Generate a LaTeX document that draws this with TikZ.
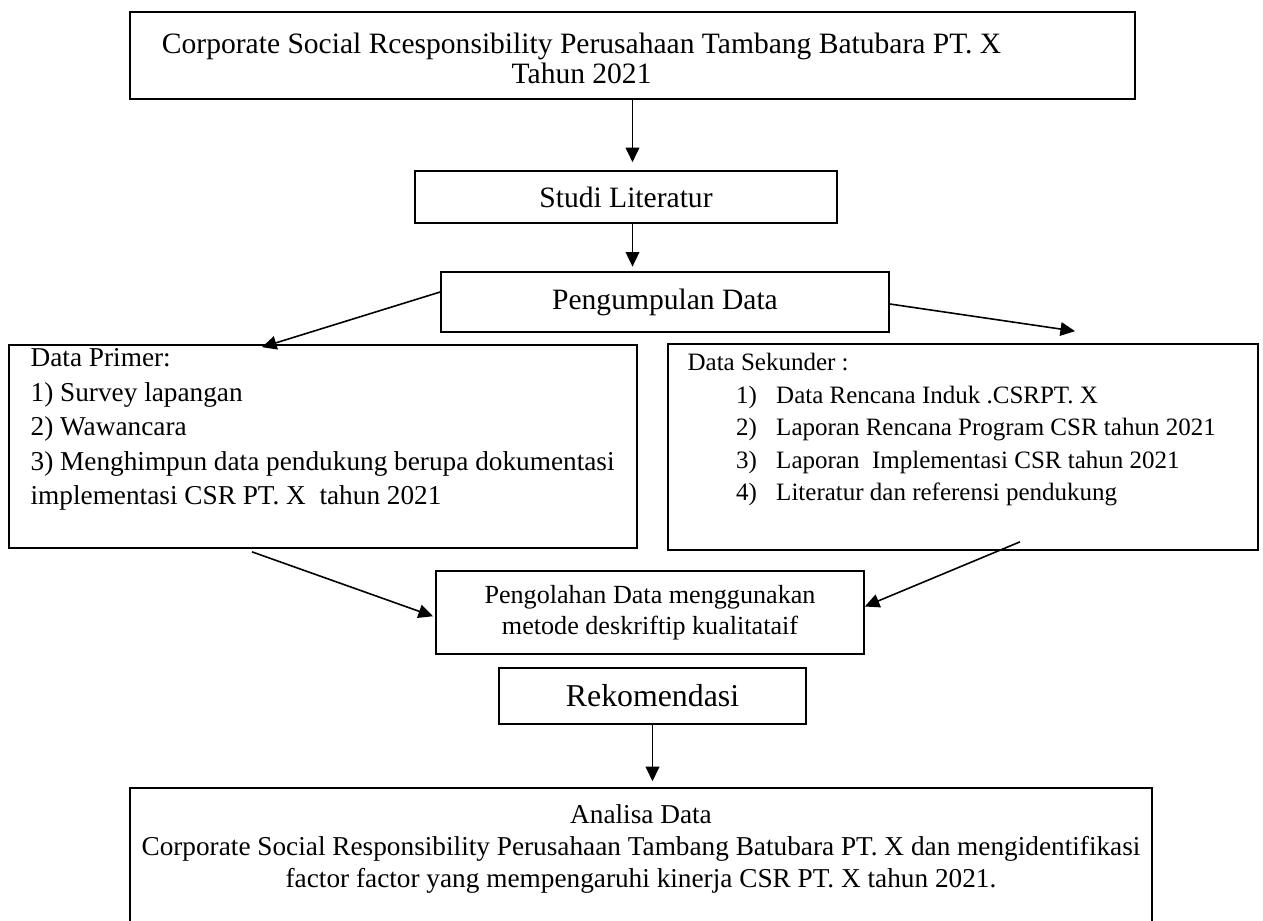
\documentclass[tikz,border=0pt]{standalone}
\usepackage{fontspec}
\setmainfont{Liberation Serif}
\usetikzlibrary{arrows.meta}
\frenchspacing

\begin{document}
\begin{tikzpicture}[x=0.44pt, y=-0.44pt,
    kotak/.style={draw, line width=0.75pt, inner sep=0pt},
    ukuran/.style 2 args={minimum width=#1*0.44pt, minimum height=#2*0.44pt},
    isi/.style={align=left, inner sep=0pt},
    panah/.style={-{Triangle[length=6.4pt, width=6pt]}, line width=0.7pt}]
  \useasboundingbox (0,0) rectangle (1263,921);
  % titik tengah tiap kotak
  \coordinate (jud) at (632.5,55.5);
  \coordinate (stu) at (626,197);
  \coordinate (kum) at (665,302);
  \coordinate (pri) at (323,446.5);
  \coordinate (sek) at (963,447);
  \coordinate (olh) at (650,612.5);
  \coordinate (rek) at (652.5,696);
  \coordinate (ana) at (641,861.5);

  \node[kotak, ukuran={1005}{87},
      label={[isi, align=center, name=judulisi, xshift=-22.4pt, yshift=-1.3pt,
        font=\fontsize{13}{13.2}\selectfont]center:{Corporate Social Rcesponsibility Perusahaan Tambang Batubara PT. X\\Tahun 2021}}
  ] (judul) at (jud) {};
  \node[kotak, ukuran={422}{52}, font=\fontsize{13}{15}\selectfont] (studi) at (stu) {Studi Literatur};
  \node[kotak, ukuran={448}{60}, font=\fontsize{13}{15}\selectfont] (kumpul) at (kum) {Pengumpulan Data};
  \node[kotak, ukuran={628}{203},
      label={[isi, anchor=north west, name=primerisi, xshift=9.7pt, yshift=-1.8pt,
        font=\fontsize{12}{15.2}\selectfont]north west:{Data Primer:\\1) Survey lapangan\\2) Wawancara\\3) Menghimpun data pendukung berupa dokumentasi\\implementasi CSR PT. X\ \ tahun 2021}}
  ] (primer) at (pri) {};
  \node[kotak, ukuran={590}{206},
      label={[isi, anchor=north west, name=sekunderisi, xshift=8.8pt, yshift=-4.4pt,
        font=\fontsize{11}{14.3}\selectfont]north west:{Data Sekunder :\\
        \hspace*{21.3pt}\makebox[17.7pt][l]{1)}Data Rencana Induk .CSRPT. X\\
        \hspace*{21.3pt}\makebox[17.7pt][l]{2)}Laporan Rencana Program CSR tahun 2021\\
        \hspace*{21.3pt}\makebox[17.7pt][l]{3)}Laporan\ \ Implementasi CSR tahun 2021\\
        \hspace*{21.3pt}\makebox[17.7pt][l]{4)}Literatur dan referensi pendukung}}
  ] (sekunder) at (sek) {};
  \node[kotak, ukuran={428}{83}, align=center, font=\fontsize{11.5}{13.8}\selectfont]
      (olah) at (olh) {Pengolahan Data menggunakan\\metode deskriftip kualitataif};
  \node[kotak, ukuran={307}{56}, font=\fontsize{14}{16}\selectfont] (rekom) at (rek) {Rekomendasi};
  \node[kotak, ukuran={1022}{147},
      label={[isi, align=center, anchor=north, name=analisaisi, yshift=-7.5pt,
        font=\fontsize{12}{14}\selectfont]north:{Analisa Data\\Corporate Social Responsibility Perusahaan Tambang Batubara PT. X dan mengidentifikasi\\factor factor yang mempengaruhi kinerja CSR PT. X tahun 2021.}}
  ] (analisa) at (ana) {};

  \path[panah, draw, shorten >=3.5pt] (judul.south) -- (judul.south |- studi.north);
  \path[panah, draw, shorten >=2pt] (judul.south |- studi.south) -- (judul.south |- kumpul.north);
  \path[panah, draw] ([yshift=4.4pt]kumpul.west) -- ([xshift=-26.84pt, yshift=-1.32pt]primer.north);
  \path[panah, draw] ([yshift=-0.88pt]kumpul.east) -- ([xshift=49.28pt, yshift=5.28pt]sekunder.north);
  \path[panah, draw, shorten >=1pt] ([xshift=-31.24pt, yshift=-1.32pt]primer.south) -- ([yshift=-1.98pt]olah.west);
  \path[panah, draw] ([xshift=25.08pt, yshift=3.96pt]sekunder.south) -- ([yshift=2.64pt]olah.east);
  \path[panah, draw, shorten >=2.6pt] (rekom.south) -- (rekom.south |- analisa.north);
\end{tikzpicture}
\end{document}
